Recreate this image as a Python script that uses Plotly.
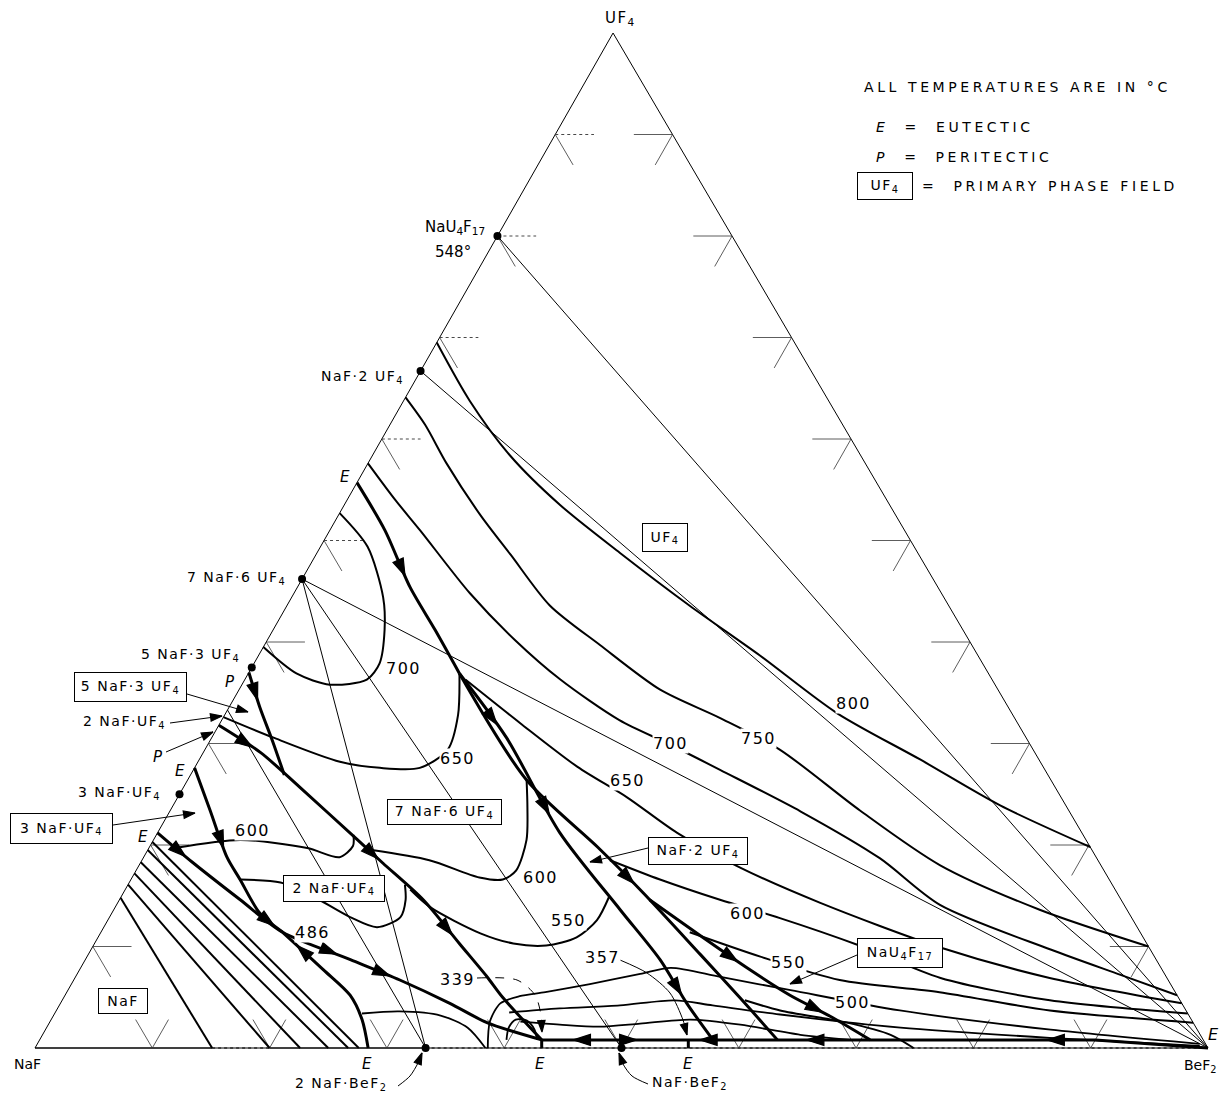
import plotly.graph_objects as go

# ============ DATA: compositions in mol % as (UF4, BeF2); NaF is the remainder ============
compound_uf4 = [80.0, 66.7, 46.2, 37.5, 25.0, 0.0, 0.0]
compound_bef2 = [0.0, 0.0, 0.0, 0.0, 0.0, 33.3, 50.0]

# Alkemade / tie lines (thin)
tie_lines = [
    [(80.0, 0.0), (0.0, 100.0)],
    [(66.7, 0.0), (0.0, 100.0)],
    [(46.2, 0.0), (0.0, 100.0)],
    [(46.2, 0.0), (0.0, 33.3)],
    [(46.2, 0.0), (0.0, 50.0)],
    [(33.3, 0.0), (0.0, 33.3)],
]

# boundary curves (heavy, with arrows)
B1 = [(55.7, 0.0), (51.0, 4.7), (45.4, 9.6), (41.2, 13.8), (36.9, 18.0)]
Lb = [(36.9, 18.0), (30.6, 25.1), (21.2, 34.3), (13.6, 43.2), (8.7, 49.0), (4.4, 53.4), (0.8, 57.4)]
Lc = [(36.9, 18.0), (26.4, 28.9), (19.8, 38.2), (15.3, 44.3), (9.2, 52.2), (5.0, 57.6), (0.8, 62.9)]
Ld = [(14.6, 45.2), (11.1, 51.2), (7.9, 56.8), (5.2, 61.8), (3.1, 66.3), (0.8, 70.8)]
B2 = [(31.8, 0.0), (29.1, 4.9), (25.7, 9.9), (20.5, 17.4), (18.2, 20.7), (14.6, 25.9),
      (10.3, 31.1), (7.0, 35.1), (5.0, 37.4), (0.8, 42.8)]
B3 = [(37.0, 0.0), (33.6, 2.6), (30.3, 5.3), (26.9, 8.0)]
C3 = [(27.6, 0.0), (23.4, 3.4), (18.8, 7.1), (16.6, 9.3), (13.3, 12.6), (11.4, 15.5)]
C1 = [(21.2, 0.0), (18.3, 4.4), (14.6, 10.3), (11.4, 15.5), (8.7, 22.6), (6.7, 27.8),
      (4.4, 33.2), (2.5, 37.3), (0.8, 42.8)]
C2 = [(11.4, 15.5), (7.7, 20.8), (5.2, 24.3), (2.8, 26.5), (0.0, 28.4)]
bottom_boundary = [(0.8, 42.8), (0.8, 55.3), (0.8, 90.0), (0.0, 100.0)]
eutectic_ties = [[(0.0, 43.2), (0.8, 42.8)], [(0.0, 55.7), (0.8, 55.3)]]

# isotherms (UF4 / NaF.2UF4 / NaU4F17 fields)
I800 = [(69.5, 0.0), (63.8, 5.6), (58.4, 11.7), (53.5, 18.4), (48.8, 25.8), (43.6, 34.3),
        (38.7, 42.7), (33.0, 52.1), (28.4, 61.5), (23.9, 70.5), (19.8, 80.2)]
I750 = [(64.1, 0.0), (61.4, 3.0), (57.6, 6.7), (52.5, 12.1), (48.6, 16.6), (43.6, 22.4),
        (39.7, 28.6), (35.3, 35.9), (32.5, 42.4), (29.4, 49.0), (23.4, 58.8), (18.0, 68.3),
        (13.6, 79.0), (10.0, 90.0)]
I700 = [(57.6, 0.0), (54.0, 4.1), (51.0, 7.7), (44.8, 15.0), (40.2, 21.1), (36.3, 26.9),
        (32.3, 33.9), (29.9, 39.4), (27.4, 44.9), (23.3, 53.8), (18.7, 62.8), (14.1, 70.2),
        (9.7, 81.8), (7.2, 89.0), (5.2, 94.8)]
I650 = [(36.3, 18.8), (32.0, 25.6), (27.7, 32.6), (24.7, 38.3), (21.2, 44.3), (17.8, 51.3),
        (14.3, 59.9), (9.9, 72.3), (6.9, 83.1), (4.4, 95.6)]
I600 = [(18.5, 39.9), (16.6, 45.1), (14.6, 51.2), (12.8, 57.2), (10.1, 65.3), (6.9, 73.8),
        (4.7, 84.2), (3.4, 96.6)]
I550 = [(11.4, 50.2), (9.0, 57.4), (6.7, 65.3), (5.5, 74.4), (3.7, 84.7), (2.5, 97.5)]
I500 = [(4.7, 58.2), (3.7, 61.7), (2.5, 68.0), (1.3, 72.3), (0.0, 74.9)]

# isotherms in the 7NaF.6UF4 and 2NaF.UF4 fields
I700_76 = [(52.7, 0.0), (49.4, 4.0), (44.4, 7.8), (41.2, 9.5), (37.9, 10.7), (36.3, 10.4),
           (35.8, 7.5), (36.9, 4.1), (39.5, 0.0)]
I650_76 = [(32.6, 0.0), (30.6, 5.2), (28.2, 12.1), (27.6, 15.8), (27.6, 19.2), (29.4, 20.7),
           (32.8, 19.9), (36.9, 18.0)]
I600_21 = [(19.7, 2.2), (20.5, 7.4), (19.7, 13.5), (18.8, 16.7), (19.9, 17.3), (21.0, 16.8)]
I600_76 = [(19.5, 19.1), (18.5, 24.5), (16.8, 29.6), (16.6, 31.7), (17.5, 32.4), (20.5, 31.8),
           (23.7, 30.3), (26.4, 28.9)]
I550_21 = [(16.6, 9.3), (16.3, 12.9), (15.1, 16.0), (12.9, 20.5), (11.9, 23.3), (12.9, 24.8),
           (14.6, 24.4), (16.1, 23.6)]
I550_76 = [(15.6, 24.3), (13.9, 26.8), (11.3, 32.4), (10.3, 35.7), (10.1, 38.6), (10.9, 40.8),
           (12.6, 41.7), (14.9, 41.6)]

# low-temperature isotherms near the NaF-BeF2 side
low_a = [(3.4, 26.2), (3.6, 29.3), (3.2, 33.0), (2.0, 35.9), (0.0, 38.4)]
low_b = [(0.0, 38.6), (2.6, 37.5), (4.4, 37.5), (5.1, 38.8), (5.5, 40.8), (6.3, 44.2), (7.3, 48.0),
         (7.9, 50.3), (7.0, 55.0), (5.7, 61.6), (3.7, 71.9), (1.8, 85.7), (0.4, 99.1)]
low_c = [(3.5, 38.7), (3.9, 42.8), (4.2, 47.8), (4.7, 52.2), (4.2, 55.7), (3.3, 61.9), (2.0, 72.8),
         (1.0, 86.0), (0.2, 99.2)]
low_d = [(2.6, 40.1), (2.3, 43.6), (2.1, 47.1), (2.4, 50.4), (2.8, 54.5), (2.3, 59.0), (1.3, 64.6),
         (0.8, 69.1)]
low_loop = [(0.8, 39.8), (2.0, 39.4), (2.8, 39.6), (2.7, 40.6), (1.8, 41.7), (0.8, 42.4)]

# NaF primary-field isotherms: start on NaF-UF4 side (UF4 %), end on NaF-BeF2 side (BeF2 %)
naf_iso_uf4 = [14.8, 16.1, 17.2, 18.3, 19.5, 20.3]
naf_iso_bef2 = [15.1, 20.0, 22.6, 25.0, 26.7, 27.6]

# ============ LAYOUT / GEOMETRY ============
SKEW = 0.4928          # horizontal offset of the UF4 apex (drawing is slightly skewed)
PX0, PY0, SX, SY = 35.0, 1048.0, 11.73, 10.15   # page pixel of NaF corner, pixels per unit
BODY = 8               # default page margin around the plot div
PAGE_W, PAGE_H = 1228, 1102
W, H = PAGE_W - 2 * BODY, PAGE_H - 2 * BODY
AREA_L, AREA_R, AREA_T, AREA_B = BODY, BODY + W, BODY, BODY + H   # page pixels
FONT = "DejaVu Sans, Liberation Sans, Arial, sans-serif"
HEAD = 18              # arrowhead size on boundary curves

def to_xy(pts):
    return [c + SKEW * a for a, c in pts], [a for a, c in pts]

def P(px, py):
    return (px - PX0) / SX, (PY0 - py) / SY

fig = go.Figure()
ann = []

def add_line(pts, width=1.0, dash="solid", spline=True, color="black"):
    xs, ys = to_xy(pts)
    fig.add_trace(go.Scatter(
        x=xs, y=ys, mode="lines", hoverinfo="skip",
        line=dict(color=color, width=width, dash=dash,
                  shape="spline" if spline else "linear", smoothing=0.8)))

def add_head(tx0, ty0, hx, hy, size):
    fig.add_trace(go.Scatter(
        x=[tx0, hx], y=[ty0, hy], mode="markers", hoverinfo="skip", cliponaxis=False,
        marker=dict(symbol="arrow", size=[0, size], angleref="previous", opacity=1,
                    color="black", line=dict(width=1.2, color="black"))))

def add_px_line(pts, width=1.0, dash="solid", head=12):
    xs = [P(x, y)[0] for x, y in pts]
    ys = [P(x, y)[1] for x, y in pts]
    fig.add_trace(go.Scatter(x=xs, y=ys, mode="lines", hoverinfo="skip",
                             line=dict(color="black", width=width, dash=dash,
                                       shape="spline", smoothing=0.8)))
    add_head(xs[-2], ys[-2], xs[-1], ys[-1], head)

def seg_arrow(pts, seg, fh=0.8, ft=0.5, backward=False):
    xs, ys = to_xy(pts)
    x0, y0, x1, y1 = xs[seg], ys[seg], xs[seg + 1], ys[seg + 1]
    if backward:
        x0, y0, x1, y1 = x1, y1, x0, y0
    add_head(x0 + (x1 - x0) * ft, y0 + (y1 - y0) * ft,
             x0 + (x1 - x0) * fh, y0 + (y1 - y0) * fh, HEAD)

# ---- triangle outline ----
add_line([(0, 0), (100, 0), (0, 100), (0, 0)], width=1.0, spline=False)
add_line([(0, 0), (0, 15.1)], width=1.2, spline=False)
add_line([(0, 15.1), (0, 20.0)], width=1.2, dash="dot", spline=False)
add_line([(0, 20.0), (0, 33.3)], width=1.2, spline=False)
add_line([(0, 33.3), (0, 100.0)], width=1.2, dash="dot", spline=False)

# ---- composition scale ticks every 10 % ----
tx, ty, dx_, dy_ = [], [], [], []
for k in range(1, 10):
    v = 10.0 * k
    solid = [
        [(v, 0.0), (v - 3.0, 3.0)],
        [(v, 100 - v), (v, 100 - v - 3.3)], [(v, 100 - v), (v - 3.0, 100 - v)],
        [(0.0, v), (2.8, v)], [(0.0, v), (2.8, v - 2.8)],
    ]
    left_h = [(v, 0.0), (v, 3.3)]
    for s in solid + ([left_h] if v < 50 else []):
        xs, ys = to_xy(s)
        tx += xs + [None]
        ty += ys + [None]
    if v >= 50:
        xs, ys = to_xy(left_h)
        dx_ += xs + [None]
        dy_ += ys + [None]
fig.add_trace(go.Scatter(x=tx, y=ty, mode="lines", hoverinfo="skip",
                         line=dict(color="#333", width=0.8)))
fig.add_trace(go.Scatter(x=dx_, y=dy_, mode="lines", hoverinfo="skip",
                         line=dict(color="#333", width=0.9, dash="dot")))

# ---- tie lines ----
for t in tie_lines:
    add_line(t, width=1.0, spline=False)

# ---- NaF field isotherms ----
for a0, c0 in zip(naf_iso_uf4, naf_iso_bef2):
    add_line([(a0, 0.0), (0.0, c0)], width=2.0, spline=False)

# ---- isotherms ----
for cur in [I800, I750, I700, I650, I600, I550, I500,
            I700_76, I650_76, I600_21, I600_76, I550_21, I550_76]:
    add_line(cur, width=2.0)
for cur in [low_a, low_b, low_c, low_d, low_loop]:
    add_line(cur, width=1.8)

# ---- boundary curves ----
for cur in [B1, Lb, Lc, Ld, B2, B3, C3, C1, C2]:
    add_line(cur, width=3.0)
add_line(bottom_boundary, width=3.0, spline=False)
for t in eutectic_ties:
    add_line(t, width=3.0, spline=False)

seg_arrow(B1, 1)
seg_arrow(Lb, 0); seg_arrow(Lb, 1); seg_arrow(Lb, 4)
seg_arrow(Lc, 2)
seg_arrow(Ld, 1); seg_arrow(Ld, 3)
seg_arrow(B2, 0); seg_arrow(B2, 3); seg_arrow(B2, 5)
seg_arrow(B3, 0)
seg_arrow(C3, 1)
seg_arrow(C1, 0); seg_arrow(C1, 2); seg_arrow(C1, 3); seg_arrow(C1, 4)
seg_arrow(C2, 0, fh=0.35, ft=0.8)
bottom_arrows = [(45.5, -1), (50.9, 1), (56.3, -1), (65.4, -1), (85.9, -1)]
for cpos, d in bottom_arrows:
    (hx,), (hy,) = to_xy([(0.8, cpos)])
    (tx0,), (ty0,) = to_xy([(0.8, cpos - 2.4 * d)])
    add_head(tx0, ty0, hx, hy, HEAD)

# ---- compounds ----
cx, cy = to_xy(list(zip(compound_uf4, compound_bef2)))
fig.add_trace(go.Scatter(x=cx, y=cy, mode="markers", hoverinfo="skip", cliponaxis=False,
                         marker=dict(color="black", size=8)))

# ---- leader lines ----
add_px_line([(477, 978), (517, 980), (535, 995), (541, 1015), (542, 1032)], width=1, dash="dash")
add_px_line([(620, 960), (647, 973), (670, 993), (683, 1020), (687, 1035)], width=1)
add_px_line([(398, 1086), (410, 1076), (418, 1063), (422, 1053)], width=1)
add_px_line([(648, 1084), (632, 1076), (623, 1064), (619, 1053)], width=1)

# pointers from labels (straight leaders with arrowheads)
pointers = [((187, 694), (248, 712)), ((170, 723), (222, 716)), ((166, 752), (213, 732)),
            ((113, 825), (195, 813)), ((648, 848), (590, 862)), ((857, 955), (790, 984))]
for (x0p, y0p), (x1p, y1p) in pointers:
    ptail = P(x0p, y0p)
    phead = P(x1p, y1p)
    fig.add_trace(go.Scatter(x=[ptail[0], phead[0]], y=[ptail[1], phead[1]], mode="lines",
                             hoverinfo="skip", line=dict(color="black", width=1)))
    add_head(ptail[0], ptail[1], phead[0], phead[1], 12)

# ---- text ----
def lab(text, px, py, size=15, box=None, xanchor="center", bg=None):
    X, Y = P(px, py)
    d = dict(x=X, y=Y, xref="x", yref="y", text=text, showarrow=False,
             font=dict(family=FONT, size=size, color="black"),
             xanchor=xanchor, yanchor="middle")
    if box:
        d.update(bordercolor="black", borderwidth=1, bgcolor="white",
                 width=box[0], height=box[1], borderpad=0)
    elif bg:
        d.update(bgcolor=bg, borderpad=0)
    ann.append(d)

SP = '<span style="letter-spacing:1.5px">{}</span>'
LS = '<span style="letter-spacing:3.6px">{}</span>'

lab(SP.format("UF<sub>4</sub>"), 620, 18, 15)
lab("NaF", 27, 1064, 14)
lab("BeF<sub>2</sub>", 1219, 1066, 14, xanchor="right")
lab("<i>E</i>", 1213, 1034, 16)
for ex in [367, 540, 688]:
    lab("<i>E</i>", ex, 1064, 15)
lab("<i>E</i>", 345, 477, 15)
lab("<i>E</i>", 180, 771, 15)
lab("<i>E</i>", 143, 837, 15)
lab("<i>P</i>", 230, 682, 15)
lab("<i>P</i>", 158, 757, 15)

lab("NaU<sub>4</sub>F<sub>17</sub>", 455, 227, 15)
lab("548°", 453, 252, 15)
lab(SP.format("NaF·2 UF<sub>4</sub>"), 406, 377, 14, xanchor="right")
lab(SP.format("7 NaF·6 UF<sub>4</sub>"), 288, 578, 14, xanchor="right")
lab(SP.format("5 NaF·3 UF<sub>4</sub>"), 242, 655, 14, xanchor="right")
lab(SP.format("2 NaF·UF<sub>4</sub>"), 168, 722, 14, xanchor="right")
lab(SP.format("3 NaF·UF<sub>4</sub>"), 163, 793, 14, xanchor="right")
lab(SP.format("2 NaF·BeF<sub>2</sub>"), 341, 1084, 14)
lab(SP.format("NaF·BeF<sub>2</sub>"), 690, 1083, 14)

lab(SP.format("5 NaF·3 UF<sub>4</sub>"), 130, 687, 14, box=(111, 28))
lab(SP.format("3 NaF·UF<sub>4</sub>"), 61, 828, 14, box=(101, 29))
lab(SP.format("NaF"), 123, 1001, 14, box=(48, 24))
lab(SP.format("2 NaF·UF<sub>4</sub>"), 334, 888, 14, box=(100, 25))
lab(SP.format("7 NaF·6 UF<sub>4</sub>"), 444, 812, 14, box=(113, 24))
lab(SP.format("NaF·2 UF<sub>4</sub>"), 698, 851, 14, box=(98, 26))
lab(SP.format("NaU<sub>4</sub>F<sub>17</sub>"), 900, 953, 14, box=(84, 28))
lab(SP.format("UF<sub>4</sub>"), 665, 537, 14, box=(44, 27))

# legend block
lab(LS.format("ALL TEMPERATURES ARE IN °C"), 862, 87, 14, xanchor="left")
lab(LS.format("<i>E</i>&nbsp;&nbsp;=&nbsp;&nbsp;EUTECTIC"), 874, 127, 14, xanchor="left")
lab(LS.format("<i>P</i>&nbsp;&nbsp;=&nbsp;&nbsp;PERITECTIC"), 874, 157, 14, xanchor="left")
lab(SP.format("UF<sub>4</sub>"), 885, 186, 14, box=(54, 26))
lab(LS.format("=&nbsp;&nbsp;PRIMARY PHASE FIELD"), 920, 186, 14, xanchor="left")

# temperature labels
temps = [("700", 403, 668), ("650", 457, 758), ("700", 670, 743), ("750", 758, 738),
         ("800", 853, 703), ("650", 627, 780), ("600", 252, 830), ("600", 540, 877),
         ("550", 568, 920), ("600", 747, 913), ("550", 788, 962), ("500", 852, 1002),
         ("486", 312, 932), ("339", 457, 979), ("357", 602, 957)]
for t, x, y in temps:
    lab(SP.format(t), x, y, 16, bg="white")

x_lo, _ = P(AREA_L, 0)
x_hi, _ = P(AREA_R, 0)
_, y_lo = P(0, AREA_B)
_, y_hi = P(0, AREA_T)
fig.update_layout(
    width=W, height=H, autosize=False,
    margin=dict(l=0, r=0, t=0, b=0),
    paper_bgcolor="white", plot_bgcolor="white", showlegend=False,
    xaxis=dict(range=[x_lo, x_hi], visible=False, fixedrange=True),
    yaxis=dict(range=[y_lo, y_hi], visible=False, fixedrange=True),
    annotations=ann,
)
fig.write_html("out.html")
